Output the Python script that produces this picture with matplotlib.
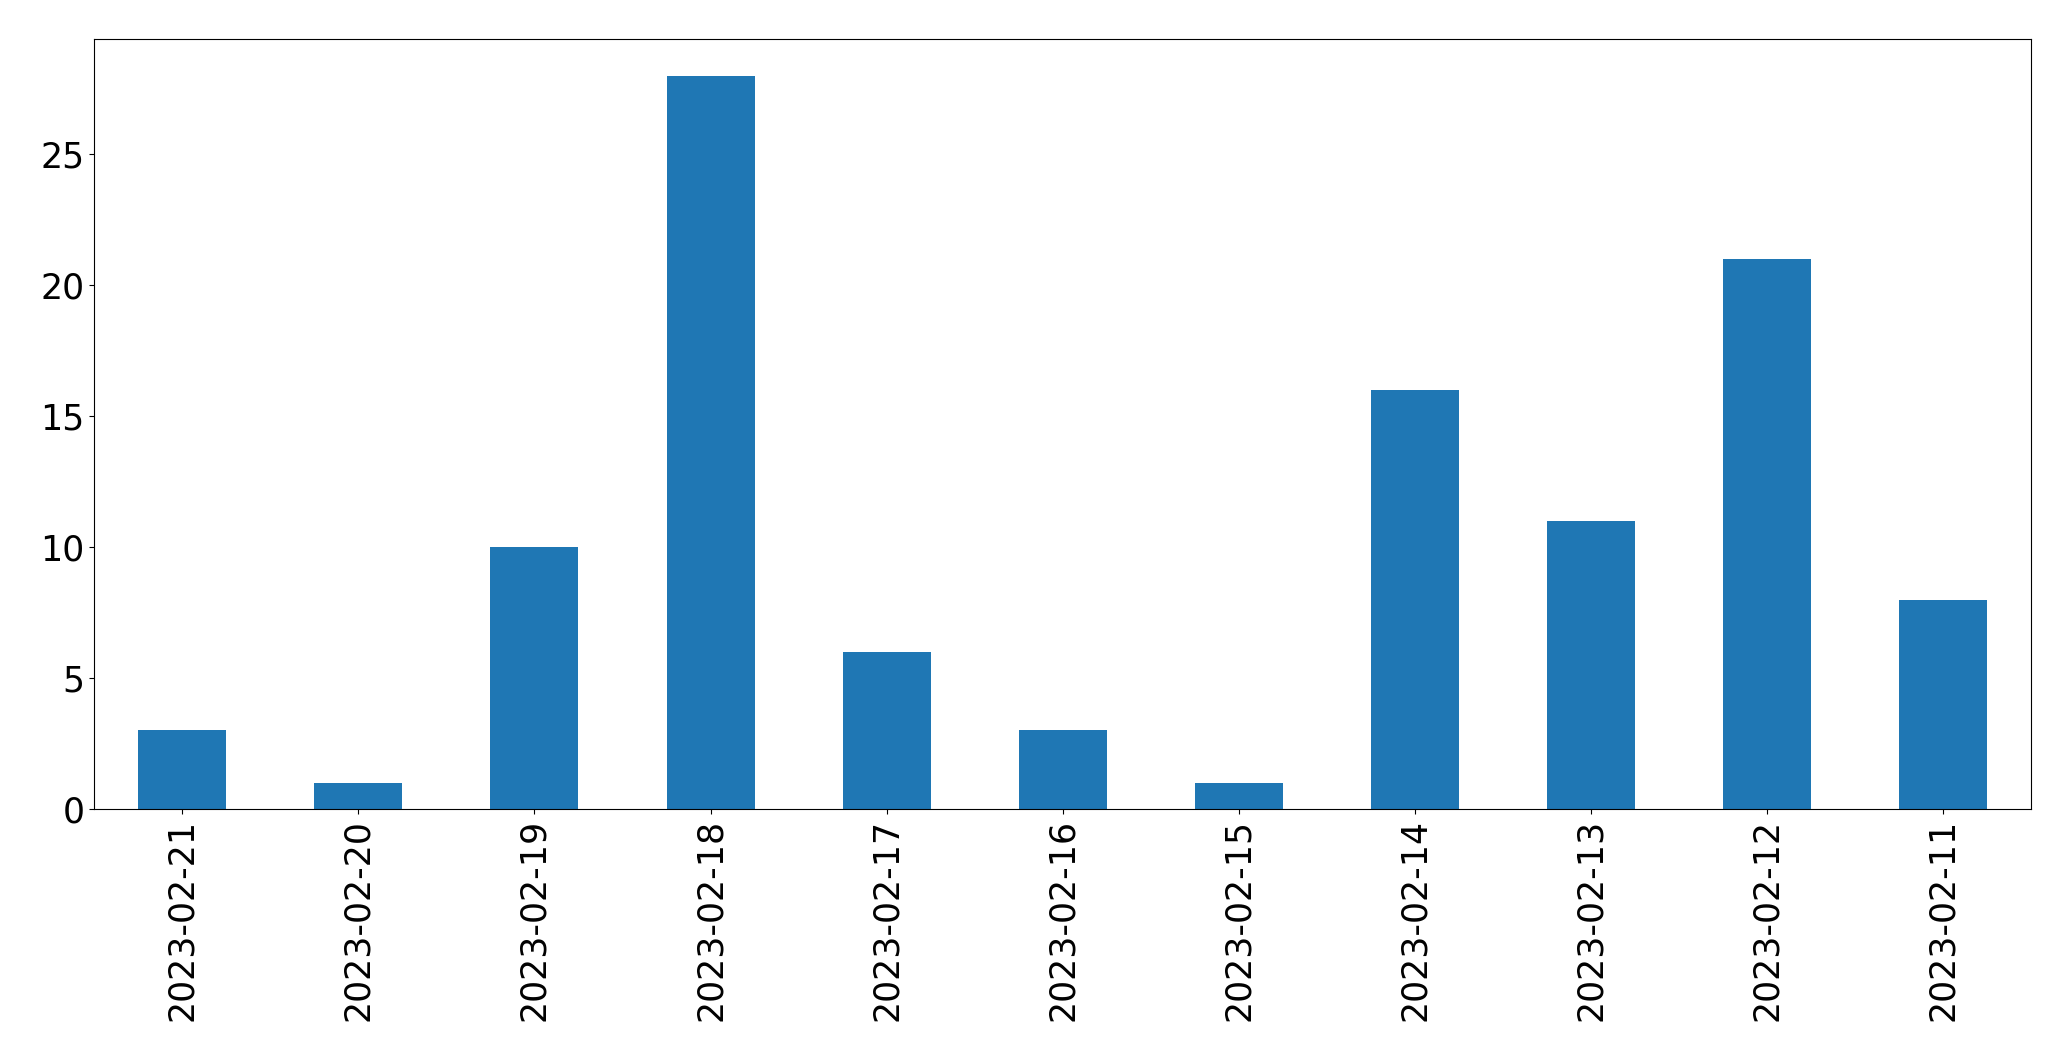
import matplotlib
matplotlib.use("Agg")
import matplotlib.pyplot as plt

dates = ["2023-02-21", "2023-02-20", "2023-02-19", "2023-02-18", "2023-02-17",
         "2023-02-16", "2023-02-15", "2023-02-14", "2023-02-13", "2023-02-12",
         "2023-02-11"]
counts = [3, 1, 10, 28, 6, 3, 1, 16, 11, 21, 8]

fig = plt.figure(figsize=(20.71, 10.61), dpi=100)
ax = fig.add_axes([94.3 / 2071, 1 - 809 / 1061, (2031 - 94.3) / 2071, (809 - 39.3) / 1061])
x = list(range(len(dates)))
ax.bar(x, counts, width=0.5, color="#1f77b4")
ax.set_xlim(-0.5, len(dates) - 0.5)
ax.set_ylim(0, max(counts) * 1.05)
ax.set_xticks(x)
ax.set_xticklabels(dates, rotation=90)
ax.tick_params(axis="both", labelsize=25)
fig.savefig("out.png", dpi=100)
